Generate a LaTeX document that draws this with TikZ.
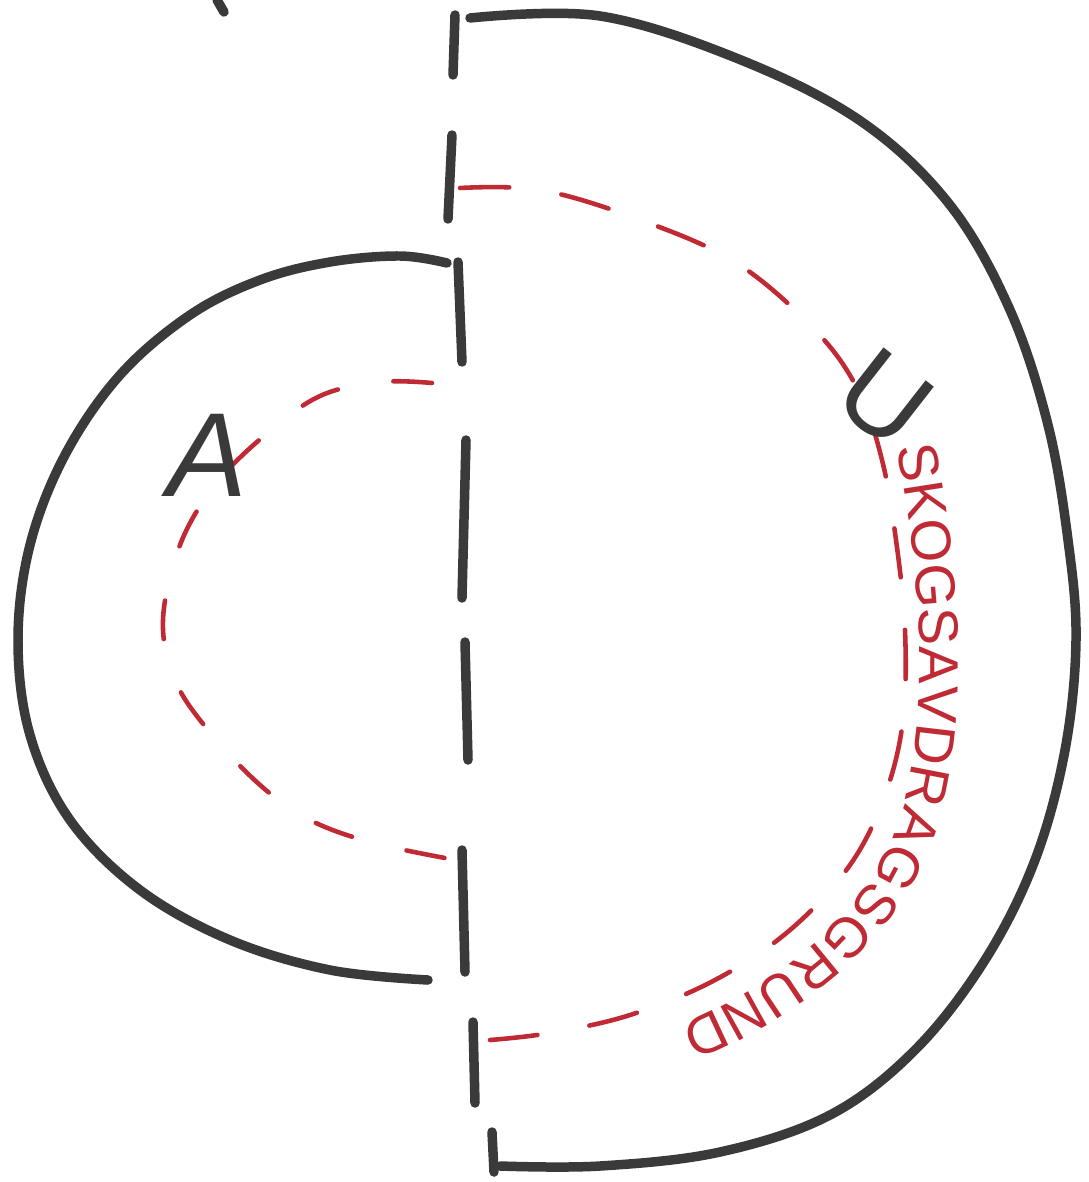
\documentclass[tikz,border=0pt]{standalone}
\usepackage{fontspec}
\setmainfont{Liberation Sans}
\usetikzlibrary{decorations.text}
\definecolor{inkgray}{RGB}{58,58,58}
\definecolor{inkred}{RGB}{192,42,52}

\begin{document}
\begin{tikzpicture}[
    x=0.01cm, y=-0.01cm,
    pen/.style={draw=inkgray, line width=2.7pt, line cap=round, line join=round},
    redpen/.style={draw=inkred, line width=1.3pt, line cap=round, dash pattern=on 14pt off 15pt},
    lbl/.style={text=inkgray, inner sep=0pt, font=\itshape}
]
\useasboundingbox (0,0) rectangle (1089,1182);

% outer half (U)
\draw[pen] plot[smooth, tension=0.6] coordinates {(470,18) (600,16) (741,60) (862,122) (950,205) (1010,310) (1048,425) (1068,540) (1076,640) (1065,750) (1035,860) (985,960) (915,1050) (830,1115) (720,1152) (600,1166) (500,1166)};
\draw[pen] (492,1132) -- (494,1172);

% inner half (A)
\draw[pen] plot[smooth, tension=0.6] coordinates {(447,263) (400,256) (330,262) (260,280) (190,315) (120,375) (65,455) (30,545) (18,640) (30,735) (70,820) (140,890) (230,940) (330,970) (428,980)};

% stray mark at the top
\draw[pen] (217,0) -- (224,12);

% divider
\foreach \xa/\ya/\xb/\yb in {455/15/453/75, 452/135/448/219, 458/262/462/362, 466/440/462/598, 465/642/468/760, 462/850/465/972, 473/1022/475/1103}
  \draw[pen] (\xa,\ya) -- (\xb,\yb);

% red inner boundaries
\draw[redpen] plot[smooth, tension=0.6] coordinates {(460,188) (540,190) (635,218) (735,262) (815,330) (858,390) (882,460) (896,540) (905,630) (903,720) (885,795) (850,865) (790,930) (715,980) (630,1015) (550,1033) (490,1040)};
\draw[redpen, dash pattern=on 11pt off 16pt] plot[smooth, tension=0.6] coordinates {(432,383) (380,382) (320,396) (265,435) (215,485) (180,545) (163,620) (175,680) (208,730) (260,785) (310,820) (370,842) (445,858)};

\path[decorate, decoration={text along path, raise=1pt,
    text={|\fontsize{16}{16}\selectfont\color{inkred}|SKOGSAVDRAGSGRUND}}]
  (893,448) .. controls (916,560) and (928,700) .. (899,810)
            .. controls (866,912) and (780,985) .. (645,1036);

\node[lbl, font=\itshape\fontsize{34}{34}\selectfont] (labA) at (207,455) {A};
\node[lbl, font=\fontsize{32}{32}\selectfont, rotate=-38] (labU) at (885,398) {U};
\end{tikzpicture}
\end{document}
